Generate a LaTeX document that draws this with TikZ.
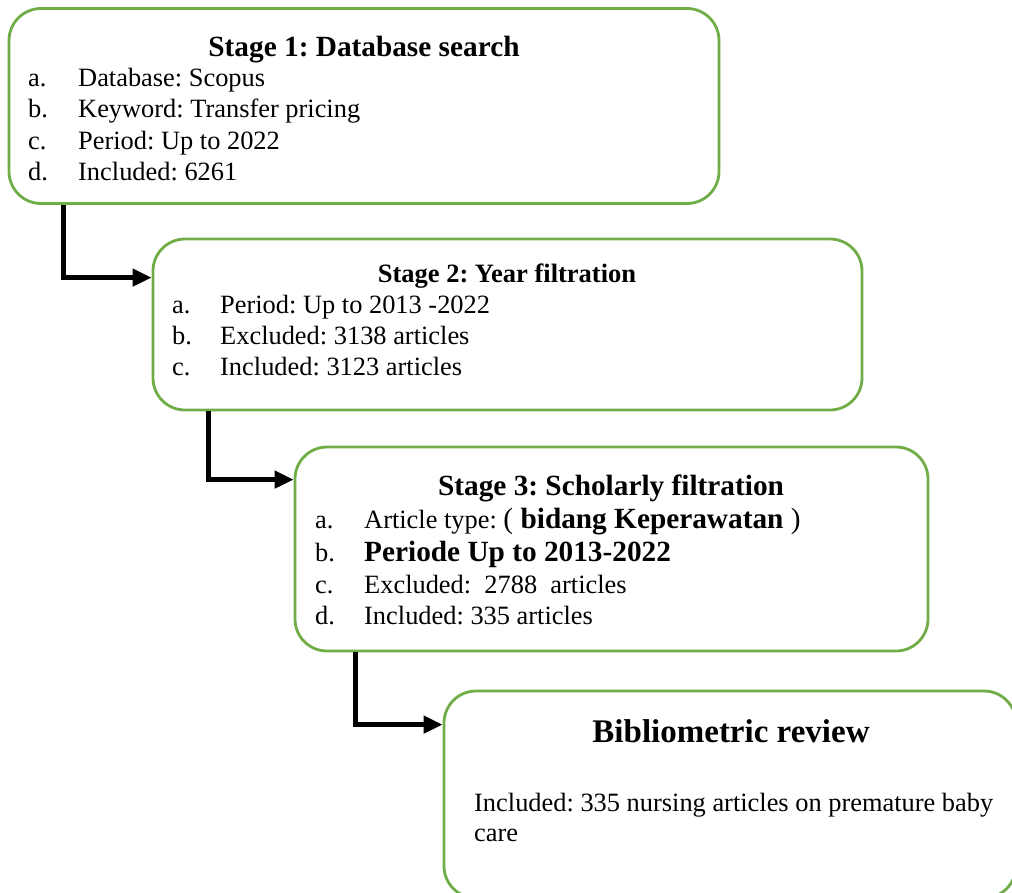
\documentclass[tikz,border=0pt]{standalone}
\usepackage{fontspec}
\setmainfont{Liberation Serif}
\usetikzlibrary{arrows.meta}
\definecolor{boxgreen}{HTML}{70AD47}
\frenchspacing
\begin{document}
\begin{tikzpicture}[x=1pt,y=-1pt,
  box/.style={draw=boxgreen, line width=2.8pt, rounded corners=32pt, rectangle, inner sep=0pt, fill=white},
  txt/.style={anchor=base west, inner sep=0pt, font=\fontsize{26.4}{30}\selectfont},
  ttl/.style={anchor=base, inner sep=0pt, font=\fontsize{29.3}{32}\selectfont\bfseries},
  ttlsmall/.style={anchor=base, inner sep=0pt, font=\fontsize{26.5}{30}\selectfont\bfseries},
  ttlbig/.style={anchor=base, inner sep=0pt, font=\fontsize{33}{36}\selectfont\bfseries},
  conn/.style={line width=4.4pt, -{Triangle[length=19pt,width=17pt]}}]
\useasboundingbox (0,0) rectangle (1012,892);
\clip (0,0) rectangle (1012,892);

% boxes
\node[box, minimum width=710pt, minimum height=195pt] (b1) at (364,106) {};
\node[box, minimum width=709pt, minimum height=171pt] (b2) at (507.5,324.5) {};
\node[box, minimum width=633pt, minimum height=204pt] (b3) at (611.5,549) {};
\node[box, minimum width=572pt, minimum height=207pt] (b4) at (730,794.5) {};

% connectors
\draw[conn] ([xshift=56pt]b1.south west) |- ([yshift=-40pt]b2.north west);
\draw[conn] ([xshift=57pt]b2.south west) |- ([yshift=-34pt]b3.north west);
\draw[conn] ([xshift=62pt]b3.south west) |- ([yshift=-35pt]b4.north west);

% box 1 text
\node[ttl] (t1) at (364,56) {Stage 1: Database search};
\node[txt] (l1a) at (28,86) {a.};
\node[txt] (i1a) at (78,86) {Database: Scopus};
\node[txt] (l1b) at (28,117) {b.};
\node[txt] (i1b) at (78,117) {Keyword: Transfer pricing};
\node[txt] (l1c) at (28,149) {c.};
\node[txt] (i1c) at (78,149) {Period: Up to 2022};
\node[txt] (l1d) at (28,180) {d.};
\node[txt] (i1d) at (78,180) {Included: 6261};

% box 2 text
\node[ttlsmall] (t2) at (507,282) {Stage 2: Year filtration};
\node[txt] (l2a) at (172,313) {a.};
\node[txt] (i2a) at (220,313) {Period: Up to 2013 -2022};
\node[txt] (l2b) at (172,344) {b.};
\node[txt] (i2b) at (220,344) {Excluded: 3138 articles};
\node[txt] (l2c) at (172,375) {c.};
\node[txt] (i2c) at (220,375) {Included: 3123 articles};

% box 3 text
\node[ttl] (t3) at (611,495) {Stage 3: Scholarly filtration};
\node[txt] (l3a) at (315,528) {a.};
\node[txt] (i3a) at (364,528) {Article type: {\fontsize{29.3}{32}\selectfont( \bfseries bidang Keperawatan \mdseries)}};
\node[txt] (l3b) at (315,561) {b.};
\node[txt, font=\fontsize{29.3}{32}\selectfont\bfseries] (i3b) at (364,561) {Periode Up to 2013-2022};
\node[txt] (l3c) at (315,593) {c.};
\node[txt] (i3c) at (364,593) {Excluded:\ \ 2788\ \ articles};
\node[txt] (l3d) at (315,624) {d.};
\node[txt] (i3d) at (364,624) {Included: 335 articles};

% box 4 text
\node[ttlbig] (t4) at (731,742) {Bibliometric review};
\node[txt] (i4a) at (474,811) {Included: 335 nursing articles on premature baby};
\node[txt] (i4b) at (474,841) {care};
\end{tikzpicture}
\end{document}
